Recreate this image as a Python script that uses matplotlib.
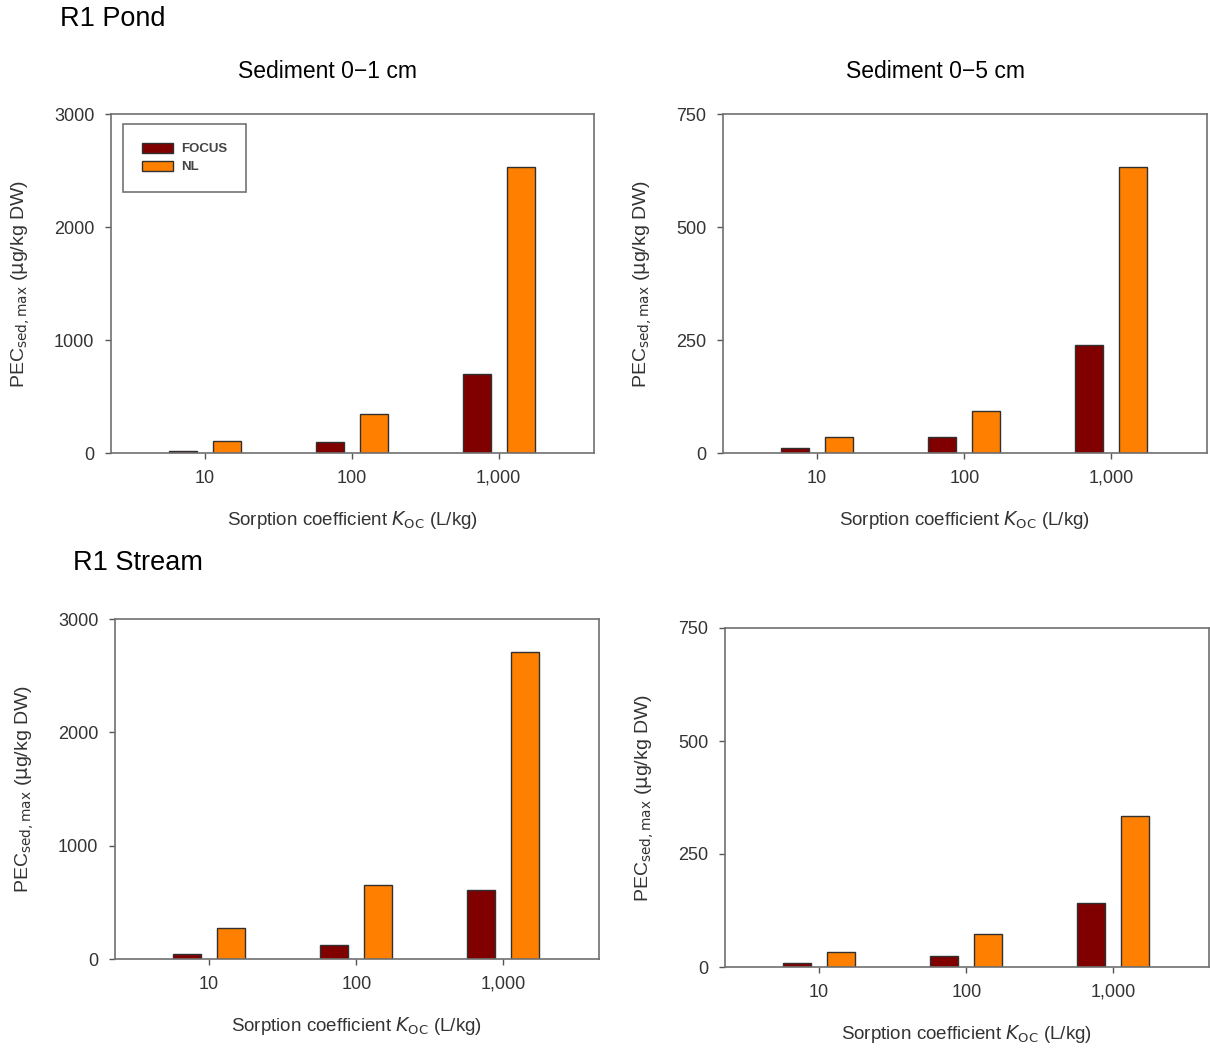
import numpy as np
import matplotlib.pyplot as plt
from matplotlib.patches import Patch

plt.rcParams['font.family'] = ['Liberation Sans', 'DejaVu Sans']

# Data
koc_labels = ['10', '100', '1,000']
pond_01_focus = [20, 97, 697]
pond_01_nl = [108, 347, 2527]
pond_05_focus = [10, 35, 239]
pond_05_nl = [35, 94, 633]
stream_01_focus = [41, 121, 606]
stream_01_nl = [276, 650, 2707]
stream_05_focus = [8, 25, 141]
stream_05_nl = [33, 73, 334]

focus_col = '#800000'
nl_col = '#FF8000'
edge_col = '#303030'

W, H = 1210, 1050
fig = plt.figure(figsize=(W/100, H/100), dpi=100)


def px_axes(l, t, r, b):
    return fig.add_axes([l/W, 1 - b/H, (r - l)/W, (b - t)/H])


def panel(ax, focus, nl, ymax, yticks, legend=False):
    x = np.arange(len(koc_labels))
    w = 0.19
    off = 0.15
    ax.bar(x - off, focus, w, color=focus_col, edgecolor=edge_col, linewidth=1, label='FOCUS')
    ax.bar(x + off, nl, w, color=nl_col, edgecolor=edge_col, linewidth=1, label='NL')
    ax.set_xlim(-0.64, 2.65)
    ax.set_ylim(0, ymax)
    ax.set_yticks(yticks)
    ax.set_xticks(x)
    ax.set_xticklabels(koc_labels)
    ax.tick_params(direction='out', length=4, width=1, color='#555555',
                   labelsize=13, labelcolor='#333333', pad=8)
    for s in ax.spines.values():
        s.set_color('#707070')
        s.set_linewidth(1.2)
    ax.set_xlabel(r'Sorption coefficient $\it{K}_\mathrm{OC}$ (L/kg)', fontsize=13.5,
                  color='#333333', labelpad=16)
    ax.set_ylabel(r'PEC$_\mathrm{sed,max}$ ($\mathrm{\mu}$g/kg DW)', fontsize=14,
                  color='#333333', labelpad=16)
    if legend:
        handles = [Patch(facecolor=focus_col, edgecolor=edge_col, label='FOCUS'),
                   Patch(facecolor=nl_col, edgecolor=edge_col, label='NL')]
        leg = ax.legend(handles=handles, loc='upper left', bbox_to_anchor=(0.025, 0.97),
                        fontsize=9.5, fancybox=False, edgecolor='#505050',
                        handlelength=2.4, handleheight=0.8, borderpad=1.4,
                        labelspacing=0.4, handletextpad=0.6, borderaxespad=0)
        leg.get_frame().set_linewidth(1.2)
        for t in leg.get_texts():
            t.set_color('#444444')
            t.set_fontweight('bold')


ax1 = px_axes(111, 114, 594, 453)
panel(ax1, pond_01_focus, pond_01_nl, 3000, [0, 1000, 2000, 3000], legend=True)

ax2 = px_axes(723, 114, 1207, 453)
panel(ax2, pond_05_focus, pond_05_nl, 750, [0, 250, 500, 750])

ax3 = px_axes(115, 619, 599, 959)
panel(ax3, stream_01_focus, stream_01_nl, 3000, [0, 1000, 2000, 3000])

ax4 = px_axes(725, 628, 1209, 967)
panel(ax4, stream_05_focus, stream_05_nl, 750, [0, 250, 500, 750])

fig.text(328/W, 1 - 71/H, 'Sediment 0\u22121 cm', fontsize=16.5, ha='center', va='center')
fig.text(936/W, 1 - 71/H, 'Sediment 0\u22125 cm', fontsize=16.5, ha='center', va='center')
fig.text(60/W, 1 - 19/H, 'R1 Pond', fontsize=19.5, va='center', ha='left')
fig.text(73/W, 1 - 563/H, 'R1 Stream', fontsize=19.5, va='center', ha='left')

fig.savefig('out.png', dpi=100, facecolor='white')
